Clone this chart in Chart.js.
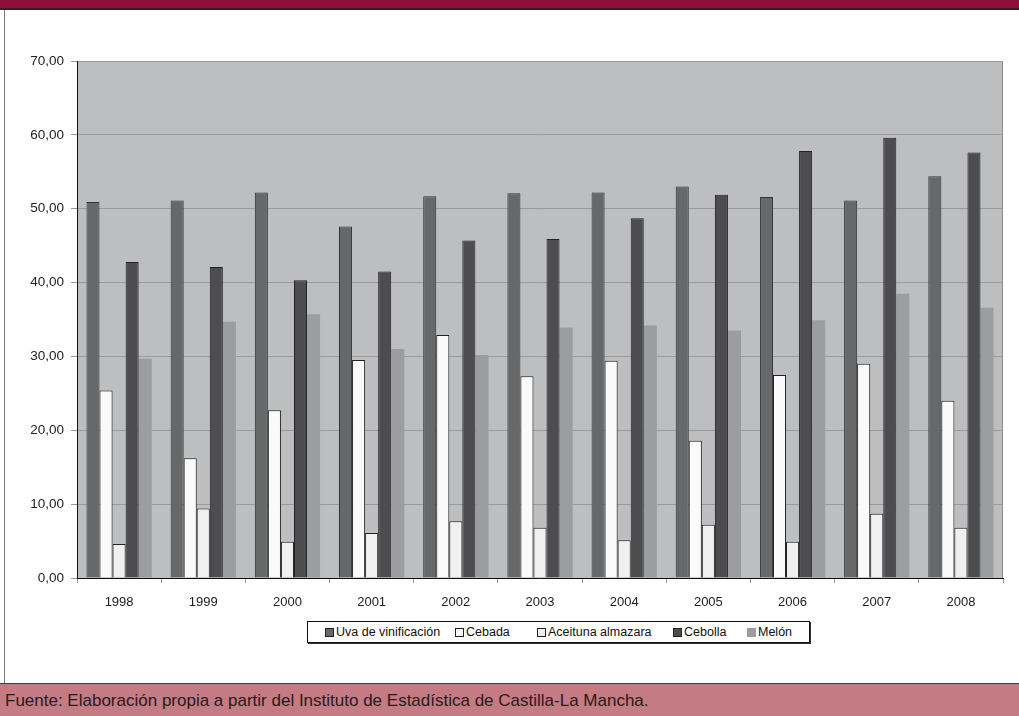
<!DOCTYPE html>
<html>
<head>
<meta charset="utf-8">
<script src="https://cdn.jsdelivr.net/npm/chart.js@4"></script>
<style>
  body { margin: 0; width: 1019px; height: 716px; background: #fff; position: relative; overflow: hidden; font-family: "Liberation Sans", Arial, sans-serif; }
  .top { position: absolute; left: 0; top: 0; width: 1019px; height: 8px; background: #8c0e3b; border-bottom: 2px solid #3a1a22; }
  .side { position: absolute; left: 4px; top: 10px; width: 1px; height: 673px; background: #777; }
  .chartbox { position: absolute; left: 0; top: 0; width: 1019px; height: 615px; }
  .legend { position: absolute; left: 307px; top: 621px; width: 503px; height: 22px; border: 1px solid #111; box-shadow: 1px 1px 0 #333; font-size: 12.5px; color: #111; box-sizing: border-box; }
  .legend span.item { position: absolute; top: 3px; display: flex; align-items: center; }
  .legend i { display: inline-block; width: 7px; height: 7px; border: 1px solid #222; margin-right: 2px; }
  .foot { position: absolute; left: 0; top: 683px; width: 1019px; height: 33px; background: #c47b84; border-top: 1px solid #5a3038; box-sizing: border-box; font-size: 17px; color: #2a1a1c; padding: 7px 0 0 5px; }
</style>
</head>
<body>
<div class="top"></div>
<div class="side"></div>
<div class="chartbox"><canvas id="c" width="1019" height="615"></canvas></div>
<div class="legend" id="legend"></div>
<div class="foot">Fuente: Elaboración propia a partir del Instituto de Estadística de Castilla-La Mancha.</div>
<script>
const years = ['1998', '1999', '2000', '2001', '2002', '2003', '2004', '2005', '2006', '2007', '2008'];
const uva      = [50.9, 51.1, 52.2, 47.6, 51.7, 52.1, 52.2, 53.0, 51.6, 51.1, 54.4];
const cebada   = [25.4, 16.2, 22.7, 29.5, 32.9, 27.3, 29.4, 18.6, 27.5, 29.0, 24.0];
const aceituna = [4.6, 9.4, 4.9, 6.1, 7.7, 6.8, 5.1, 7.2, 4.9, 8.7, 6.8];
const cebolla  = [42.8, 42.1, 40.3, 41.5, 45.7, 45.9, 48.7, 51.9, 57.8, 59.6, 57.6];
const melon    = [29.7, 34.7, 35.7, 31.0, 30.2, 33.9, 34.2, 33.5, 34.9, 38.5, 36.6];
const yTicks   = [0, 10, 20, 30, 40, 50, 60, 70];

const series = [
  { label: 'Uva de vinificación', data: uva, bg: '#67686a', bd: '#333', bw: 1 },
  { label: 'Cebada', data: cebada, bg: '#fafafa', bd: '#222', bw: 1 },
  { label: 'Aceituna almazara', data: aceituna, bg: '#f0f0f0', bd: '#222', bw: 1 },
  { label: 'Cebolla', data: cebolla, bg: '#4d4d4f', bd: '#222', bw: 1 },
  { label: 'Melón', data: melon, bg: '#9c9da1', bd: '#9c9da1', bw: 0 }
];

// fondo gris del área de trazado
const plotBg = {
  id: 'plotBg',
  beforeDraw(chart) {
    const a = chart.chartArea, ctx = chart.ctx;
    ctx.save();
    ctx.fillStyle = '#bdbec0';
    ctx.fillRect(a.left, a.top, a.right - a.left, a.bottom - a.top);
    ctx.strokeStyle = '#8a8a8a';
    ctx.lineWidth = 1;
    ctx.strokeRect(a.left + 0.5, a.top + 0.5, a.right - a.left - 1, a.bottom - a.top);
    ctx.restore();
  }
};

new Chart(document.getElementById('c'), {
  type: 'bar',
  data: {
    labels: years,
    datasets: series.map(s => ({
      label: s.label, data: s.data, backgroundColor: s.bg, borderColor: s.bd,
      borderWidth: s.bw, borderSkipped: 'bottom', barPercentage: 1, categoryPercentage: 0.775
    }))
  },
  options: {
    responsive: false,
    animation: false,
    layout: { padding: { top: 61, right: 16, left: 0, bottom: 0 } },
    plugins: { legend: { display: false }, tooltip: { enabled: false } },
    scales: {
      x: {
        afterFit(s) { s.height = 37; },
        grid: { drawOnChartArea: false, color: '#999', tickLength: 5, offset: true },
        border: { color: '#111', width: 1 },
        ticks: { color: '#222', font: { family: 'Liberation Sans', size: 13 }, padding: 12 }
      },
      y: {
        min: 0, max: 70,
        afterFit(s) { s.width = 77; },
        afterBuildTicks(s) { s.ticks = yTicks.map(v => ({ value: v })); },
        grid: { color: '#9a9a9a', tickLength: 6 },
        border: { color: '#111', width: 1 },
        ticks: {
          color: '#222', font: { family: 'Liberation Sans', size: 13.5 }, padding: 7,
          callback: v => v.toFixed(2).replace('.', ',')
        }
      }
    }
  },
  plugins: [plotBg]
});

const legendPos = [17, 147, 229, 365, 439];
const lg = document.getElementById('legend');
series.forEach((s, i) => {
  const it = document.createElement('span');
  it.className = 'item';
  it.style.left = legendPos[i] + 'px';
  it.innerHTML = '<i style="background:' + s.bg + ';border-color:' + (s.bw ? '#222' : s.bg) + '"></i>' + s.label;
  lg.appendChild(it);
});
</script>
</body>
</html>
